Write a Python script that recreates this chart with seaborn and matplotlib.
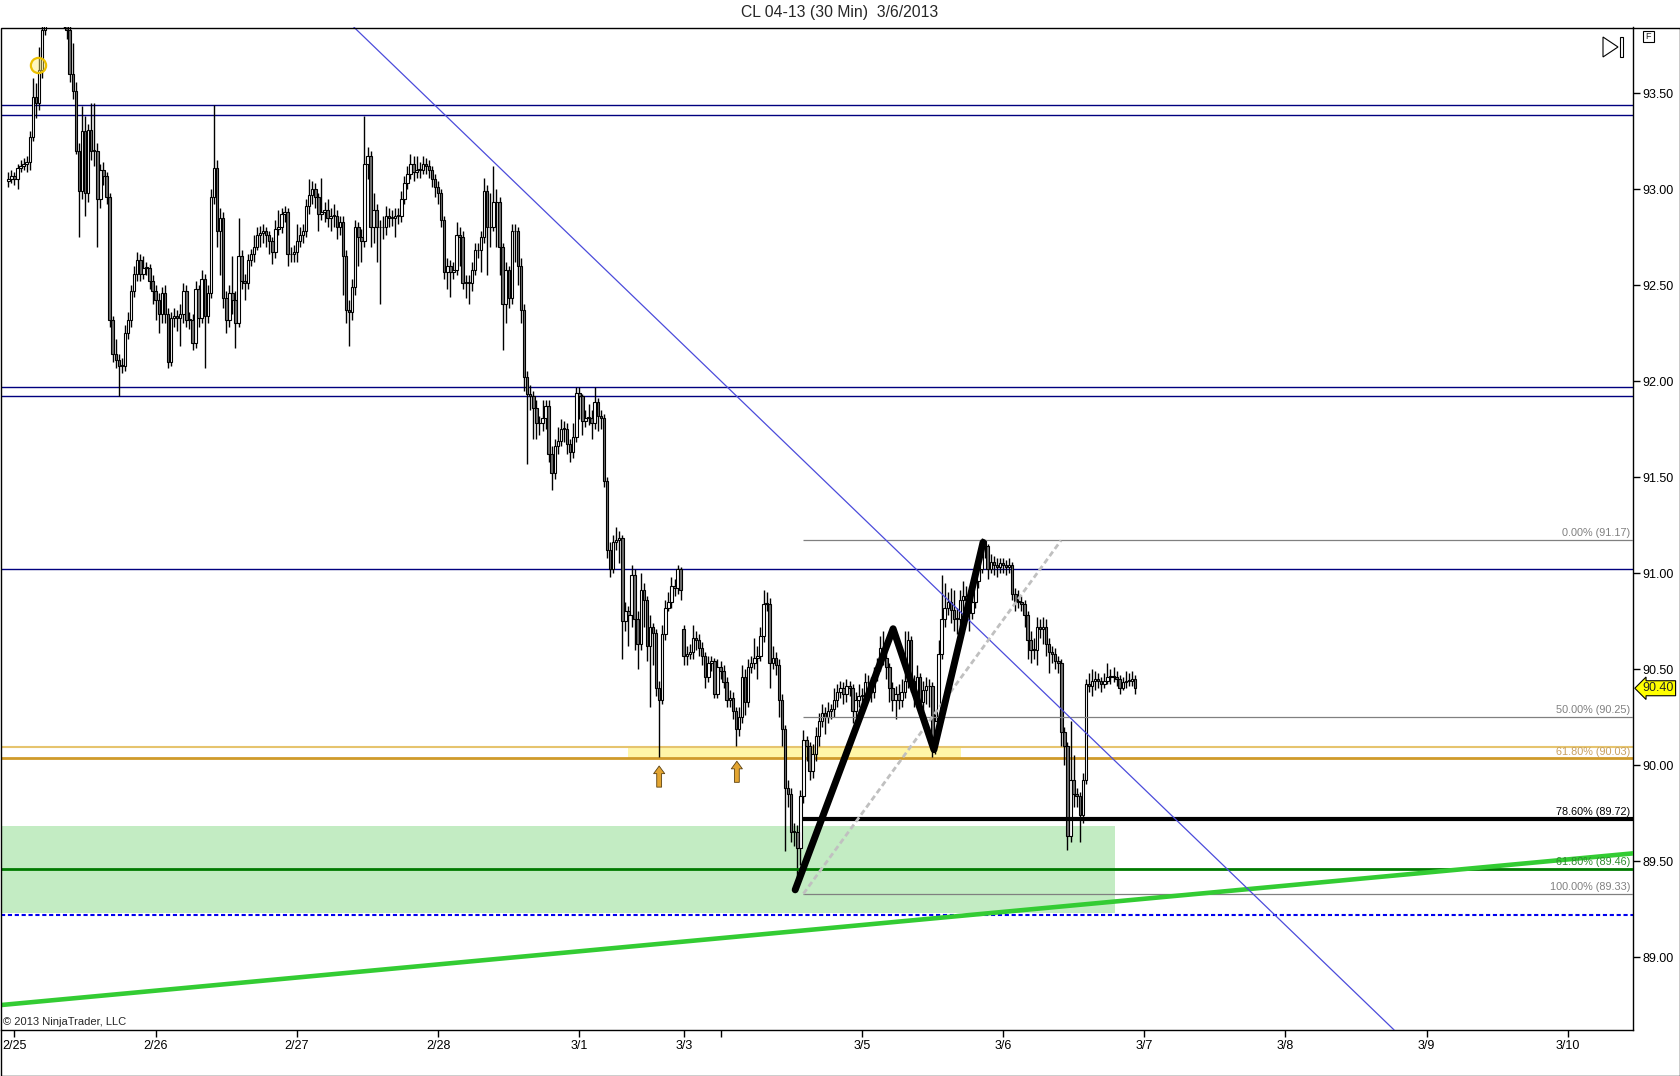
import numpy as np
import pandas as pd
import matplotlib
matplotlib.use("Agg")
import matplotlib.pyplot as plt
from matplotlib.patches import Rectangle, Polygon
import seaborn as sns

# CL 04-13, 30 min bars. One list per session.
# opens are the previous close unless a session starts with a gap
open_0225 = 93.04
close_0225 = [93.05, 93.07, 93.05, 93.11, 93.12, 93.13, 93.14, 93.27, 93.48, 93.45,
              93.62, 93.83, 93.95, 93.98, 93.93, 94.02, 93.96, 93.91, 93.88, 93.83,
              93.60, 93.51, 93.20, 92.99, 93.30, 92.98, 93.31, 93.20, 93.20, 92.95,
              93.10, 93.07, 92.96, 92.32, 92.14, 92.11, 92.08, 92.08, 92.25, 92.32,
              92.47, 92.56, 92.63, 92.56, 92.59, 92.59, 92.52, 92.47]
high_0225 = [93.09, 93.10, 93.09, 93.13, 93.15, 93.16, 93.17, 93.30, 93.58, 93.55,
             93.74, 93.92, 94.00, 94.05, 94.03, 94.08, 94.06, 93.99, 93.95, 93.92,
             93.86, 93.76, 93.56, 93.24, 93.43, 93.38, 93.34, 93.45, 93.45, 93.24,
             93.13, 93.14, 93.09, 92.98, 92.34, 92.22, 92.14, 92.12, 92.29, 92.36,
             92.50, 92.60, 92.67, 92.66, 92.65, 92.62, 92.61, 92.55]
low_0225 = [93.01, 93.03, 93.02, 93.00, 93.09, 93.10, 93.09, 93.10, 93.25, 93.37,
            93.41, 93.58, 93.80, 93.90, 93.88, 93.90, 93.92, 93.86, 93.84, 93.78,
            93.56, 93.47, 93.18, 92.75, 92.95, 92.86, 92.93, 93.15, 93.12, 92.70,
            92.90, 93.02, 92.92, 92.28, 92.10, 92.07, 91.92, 92.04, 92.05, 92.22,
            92.28, 92.44, 92.52, 92.52, 92.53, 92.55, 92.48, 92.40]

close_0226 = [92.42, 92.35, 92.46, 92.35, 92.10, 92.33, 92.34, 92.33, 92.35, 92.47,
              92.32, 92.32, 92.20, 92.48, 92.33, 92.53, 92.34, 92.46, 92.96, 93.11,
              92.78, 92.85, 92.43, 92.32, 92.46, 92.42, 92.30, 92.65, 92.52, 92.51,
              92.63, 92.66, 92.70, 92.76, 92.77, 92.78, 92.76, 92.73, 92.67, 92.79,
              92.80, 92.87, 92.88, 92.66, 92.66, 92.67]
high_0226 = [92.50, 92.46, 92.49, 92.50, 92.38, 92.36, 92.38, 92.37, 92.40, 92.51,
             92.50, 92.36, 92.35, 92.52, 92.50, 92.58, 92.56, 92.50, 93.00, 93.44,
             93.15, 92.90, 92.88, 92.47, 92.50, 92.65, 92.47, 92.85, 92.68, 92.56,
             92.66, 92.69, 92.76, 92.80, 92.81, 92.82, 92.80, 92.78, 92.75, 92.84,
             92.89, 92.90, 92.91, 92.90, 92.70, 92.71]
low_0226 = [92.32, 92.25, 92.30, 92.30, 92.07, 92.08, 92.28, 92.26, 92.18, 92.30,
            92.28, 92.27, 92.16, 92.17, 92.28, 92.30, 92.07, 92.30, 92.43, 92.92,
            92.70, 92.55, 92.38, 92.25, 92.28, 92.35, 92.17, 92.28, 92.48, 92.42,
            92.48, 92.60, 92.62, 92.68, 92.70, 92.72, 92.70, 92.66, 92.61, 92.64,
            92.76, 92.77, 92.83, 92.60, 92.62, 92.62]

close_0227 = [92.73, 92.76, 92.78, 92.91, 92.97, 93.00, 92.96, 92.87, 92.88, 92.89,
              92.85, 92.86, 92.86, 92.80, 92.83, 92.65, 92.37, 92.36, 92.49, 92.80,
              92.75, 92.73, 93.13, 93.17, 92.80, 92.89, 92.80, 92.80, 92.80, 92.86,
              92.85, 92.85, 92.86, 92.86, 92.95, 93.03, 93.08, 93.13, 93.09, 93.10,
              93.10, 93.13, 93.12, 93.10, 93.05, 93.01]
high_0227 = [92.82, 92.80, 92.82, 92.95, 93.05, 93.04, 93.03, 92.98, 93.06, 92.93,
             92.95, 92.90, 92.92, 92.89, 92.86, 92.86, 92.68, 92.42, 92.53, 92.84,
             92.83, 92.79, 93.38, 93.22, 93.20, 92.98, 92.92, 92.84, 92.86, 92.91,
             92.90, 92.89, 92.90, 92.90, 92.99, 93.07, 93.12, 93.18, 93.17, 93.17,
             93.14, 93.17, 93.16, 93.15, 93.12, 93.08]
low_0227 = [92.62, 92.70, 92.72, 92.75, 92.87, 92.92, 92.90, 92.78, 92.84, 92.83,
            92.80, 92.78, 92.80, 92.74, 92.76, 92.45, 92.30, 92.18, 92.32, 92.45,
            92.60, 92.62, 92.70, 93.05, 92.70, 92.72, 92.62, 92.40, 92.74, 92.76,
            92.80, 92.81, 92.75, 92.82, 92.83, 92.92, 93.00, 93.05, 93.04, 93.06,
            93.06, 93.08, 93.08, 93.06, 93.01, 92.96]

close_0228 = [92.98, 92.84, 92.57, 92.60, 92.57, 92.58, 92.76, 92.75, 92.51, 92.51,
              92.51, 92.58, 92.68, 92.68, 92.75, 92.99, 92.80, 92.80, 92.93, 92.93,
              92.70, 92.40, 92.58, 92.43, 92.78, 92.78, 92.60, 92.37, 92.02, 91.93,
              91.92, 91.86, 91.78, 91.78, 91.81, 91.87, 91.62, 91.52, 91.66, 91.69,
              91.75, 91.75, 91.67, 91.63, 91.71, 91.94]
high_0228 = [93.04, 93.00, 92.86, 92.64, 92.63, 92.62, 92.83, 92.80, 92.78, 92.55,
             92.55, 92.62, 92.72, 92.72, 92.78, 93.06, 93.02, 92.98, 93.12, 93.00,
             92.96, 92.72, 92.62, 92.60, 92.82, 92.82, 92.80, 92.64, 92.40, 92.05,
             91.98, 91.95, 91.90, 91.82, 91.90, 91.90, 91.90, 91.66, 91.70, 91.76,
             91.80, 91.79, 91.78, 91.70, 91.78, 91.97]
low_0228 = [92.92, 92.80, 92.53, 92.48, 92.44, 92.53, 92.55, 92.60, 92.48, 92.43,
            92.40, 92.47, 92.55, 92.64, 92.57, 92.72, 92.55, 92.70, 92.78, 92.70,
            92.55, 92.16, 92.30, 92.38, 92.40, 92.62, 92.50, 92.30, 91.95, 91.57,
            91.85, 91.70, 91.70, 91.72, 91.74, 91.75, 91.58, 91.43, 91.49, 91.62,
            91.66, 91.68, 91.62, 91.58, 91.60, 91.68]

close_0301 = [91.92, 91.79, 91.81, 91.81, 91.78, 91.89, 91.82, 91.81, 91.48, 91.12,
              91.02, 91.16, 91.17, 91.18, 90.75, 90.80, 90.78, 90.99, 90.76, 90.63,
              90.91, 90.86, 90.62, 90.72, 90.69, 90.40, 90.34, 90.68, 90.82, 90.85,
              90.93, 90.92, 91.02, 90.91]
high_0301 = [91.97, 91.93, 91.85, 91.88, 91.85, 91.97, 91.91, 91.85, 91.83, 91.50,
             91.16, 91.20, 91.24, 91.22, 91.20, 90.85, 90.83, 91.04, 91.02, 90.80,
             91.00, 90.95, 90.88, 90.78, 90.74, 90.71, 90.44, 90.73, 90.86, 90.90,
             90.98, 90.97, 91.04, 91.03]
low_0301 = [91.80, 91.72, 91.76, 91.77, 91.70, 91.75, 91.74, 91.75, 91.45, 91.08,
            90.98, 91.00, 91.12, 91.05, 90.55, 90.70, 90.62, 90.72, 90.60, 90.50,
            90.60, 90.72, 90.54, 90.30, 90.52, 90.36, 90.04, 90.32, 90.65, 90.80,
            90.82, 90.88, 90.89, 90.86]

open_0303 = 90.71
close_0303 = [90.57, 90.58, 90.59, 90.66, 90.65, 90.61, 90.57, 90.46, 90.53, 90.54,
              90.37, 90.51]
high_0303 = [90.73, 90.62, 90.63, 90.73, 90.70, 90.68, 90.64, 90.59, 90.57, 90.57,
             90.56, 90.55]
low_0303 = [90.52, 90.52, 90.55, 90.55, 90.60, 90.57, 90.52, 90.40, 90.43, 90.49,
            90.35, 90.35]

close_0304 = [90.49, 90.43, 90.34, 90.35, 90.28, 90.19, 90.25, 90.46, 90.33, 90.51,
              90.53, 90.56, 90.57, 90.67, 90.84, 90.84, 90.53, 90.56, 90.52, 90.34,
              90.19, 89.88, 89.85, 89.65, 89.65, 89.57, 89.84, 90.13, 90.10, 89.97,
              90.06, 90.15, 90.23, 90.27, 90.25, 90.28, 90.29, 90.34, 90.38, 90.40,
              90.37, 90.41, 90.40, 90.28, 90.34, 90.36]
high_0304 = [90.54, 90.52, 90.46, 90.39, 90.38, 90.30, 90.30, 90.52, 90.50, 90.55,
             90.57, 90.66, 90.62, 90.72, 90.91, 90.90, 90.87, 90.62, 90.59, 90.55,
             90.37, 90.21, 89.92, 89.88, 89.70, 89.69, 89.87, 90.18, 90.15, 90.12,
             90.11, 90.20, 90.27, 90.32, 90.30, 90.33, 90.32, 90.40, 90.42, 90.44,
             90.43, 90.45, 90.44, 90.42, 90.38, 90.42]
low_0304 = [90.45, 90.40, 90.30, 90.30, 90.24, 90.10, 90.15, 90.22, 90.26, 90.30,
            90.48, 90.50, 90.45, 90.54, 90.64, 90.80, 90.40, 90.50, 90.47, 90.25,
            90.10, 89.55, 89.78, 89.60, 89.58, 89.38, 89.48, 89.80, 90.02, 89.92,
            89.93, 90.02, 90.10, 90.20, 90.16, 90.22, 90.24, 90.25, 90.30, 90.35,
            90.32, 90.33, 90.36, 90.22, 90.25, 90.30]

close_0305 = [90.36, 90.43, 90.43, 90.38, 90.47, 90.52, 90.61, 90.56, 90.51, 90.40,
              90.34, 90.37, 90.34, 90.38, 90.44, 90.65, 90.44, 90.37, 90.46, 90.33,
              90.39, 90.41, 90.41, 90.10, 90.23, 90.58, 90.76, 90.82, 90.85, 90.81,
              90.76, 90.76, 90.86, 90.88, 90.86, 90.79, 90.85, 90.96, 91.02, 91.17,
              91.14, 91.02, 91.06, 91.04, 91.03, 91.05]
high_0305 = [90.40, 90.48, 90.47, 90.46, 90.51, 90.56, 90.67, 90.70, 90.60, 90.53,
             90.43, 90.41, 90.42, 90.45, 90.70, 90.70, 90.67, 90.47, 90.52, 90.48,
             90.44, 90.46, 90.45, 90.43, 90.28, 90.65, 90.99, 90.95, 90.90, 90.92,
             90.91, 90.82, 90.91, 90.96, 90.93, 90.90, 90.90, 91.00, 91.06, 91.18,
             91.17, 91.15, 91.10, 91.09, 91.08, 91.08]
low_0305 = [90.30, 90.32, 90.38, 90.33, 90.35, 90.44, 90.49, 90.52, 90.45, 90.33,
            90.28, 90.24, 90.29, 90.30, 90.35, 90.40, 90.38, 90.30, 90.34, 90.28,
            90.28, 90.32, 90.30, 90.04, 90.06, 90.20, 90.55, 90.72, 90.78, 90.74,
            90.70, 90.68, 90.72, 90.80, 90.82, 90.70, 90.76, 90.82, 90.92, 91.00,
            91.08, 90.97, 91.00, 90.99, 90.98, 91.00]

close_0306 = [91.04, 91.03, 91.04, 90.89, 90.85, 90.85, 90.84, 90.78, 90.65, 90.60,
              90.60, 90.72, 90.71, 90.72, 90.63, 90.59, 90.58, 90.54, 90.53, 90.17,
              90.10, 89.63, 89.92, 89.85, 89.84, 89.74, 89.92, 90.42, 90.41, 90.44,
              90.45, 90.44, 90.42, 90.44, 90.46, 90.46, 90.46, 90.45, 90.40, 90.43,
              90.44, 90.44, 90.45, 90.40]
high_0306 = [91.08, 91.07, 91.08, 91.06, 90.92, 90.91, 90.88, 90.86, 90.80, 90.70,
             90.66, 90.77, 90.76, 90.77, 90.76, 90.66, 90.62, 90.61, 90.57, 90.55,
             90.20, 90.12, 90.23, 90.05, 89.88, 89.86, 89.96, 90.45, 90.48, 90.50,
             90.49, 90.48, 90.46, 90.48, 90.53, 90.50, 90.51, 90.49, 90.47, 90.46,
             90.49, 90.48, 90.49, 90.47]
low_0306 = [91.00, 90.99, 91.00, 90.86, 90.80, 90.82, 90.80, 90.72, 90.55, 90.53,
            90.55, 90.52, 90.66, 90.63, 90.57, 90.48, 90.53, 90.50, 90.48, 90.10,
            90.00, 89.56, 89.60, 89.78, 89.78, 89.60, 89.70, 89.90, 90.38, 90.36,
            90.39, 90.40, 90.38, 90.40, 90.42, 90.42, 90.43, 90.41, 90.37, 90.39,
            90.40, 90.41, 90.41, 90.37]

# drawing objects on the chart, anchored at (bar number, price)
navy_levels = [93.436, 93.384, 91.97, 91.92, 91.02]
gold_light, gold_dark = 90.095, 90.035
blue_dash_level = 89.22
green_fib_level = 89.46
zone_bars, zone_prices = (-2.4, 360.5), (89.23, 89.68)
band_bars, band_prices = (201.9, 310.3), (gold_dark, gold_light)
fib_start = 259
fib_pcts = ["0.00%", "50.00%", "61.80%", "78.60%", "100.00%"]
fib_prices = [91.17, 90.25, 90.03, 89.72, 89.33]
zigzag_bars = [256.3, 288.2, 301.5, 317.5]
zigzag_prices = [89.35, 90.71, 90.08, 91.16]
dash_bars, dash_prices = [259, 342.9], [89.33, 91.17]
green_trend = [(-2.38, 88.75), (529.2, 89.54)]
blue_trend = [(114.2, 93.818), (450.1, 88.64)]
arrow_bars, arrow_tips = [212, 237.3], [89.995, 90.02]
marker_bar, marker_price = 9.7, 93.646
last_price = 90.40
price_ticks = [89.0, 89.5, 90.0, 90.5, 91.0, 91.5, 92.0, 92.5, 93.0, 93.5]
x_range = (-2.38, 529.2)

sessions = [
    (open_0225, close_0225, high_0225, low_0225),
    (None, close_0226, high_0226, low_0226),
    (None, close_0227, high_0227, low_0227),
    (None, close_0228, high_0228, low_0228),
    (None, close_0301, high_0301, low_0301),
    (open_0303, close_0303, high_0303, low_0303),
    (None, close_0304, high_0304, low_0304),
    (None, close_0305, high_0305, low_0305),
    (None, close_0306, high_0306, low_0306),
]
o, c, h, l = [], [], [], []
for first_open, cl, hi, lo in sessions:
    prev = [first_open if first_open is not None else c[-1]] + cl[:-1]
    o += prev
    c += cl
    h += hi
    l += lo
bars = pd.DataFrame({"open": o, "high": h, "low": l, "close": c})
bars["high"] = bars[["open", "high", "close"]].max(axis=1)
bars["low"] = bars[["open", "low", "close"]].min(axis=1)
bars["x"] = np.arange(len(bars))

# bar clock: 23h sessions, weekend gap only for real data
times = pd.date_range("2013-02-24 23:00", "2013-03-11 00:00", freq="30min")
keep = (times.hour != 17) & ~((times >= "2013-03-01 17:00") & (times < "2013-03-03 18:00"))
times = times[keep]
new_day = ~pd.Series(times.date).duplicated().values
tick_pos = np.flatnonzero(new_day)[1:]
tick_pos = tick_pos[tick_pos < x_range[1]]
tick_lab = [f"{t.month}/{t.day}" if not (t.month == 3 and t.day == 4) else ""
            for t in times[tick_pos]]

sns.set_style("white")
plt.rcParams["font.family"] = ["Liberation Sans", "DejaVu Sans"]

W, H = 1680, 1076
fig = plt.figure(figsize=(W / 100, H / 100), dpi=100)
ax = fig.add_axes([1 / W, 46 / H, 1632 / W, 1003 / H])

# background drawings
ax.add_patch(Rectangle((zone_bars[0], zone_prices[0]), zone_bars[1] - zone_bars[0],
                       zone_prices[1] - zone_prices[0], fc="#c3ecc3", ec="none", zorder=1))
ax.add_patch(Rectangle((band_bars[0], band_prices[0]), band_bars[1] - band_bars[0],
                       band_prices[1] - band_prices[0], fc="#fff6a8", ec="none", zorder=1))
for lvl in navy_levels:
    ax.axhline(lvl, color="#00007f", lw=1, zorder=2)
ax.axhline(gold_light, color="#e6c46e", lw=1.5, zorder=2)
ax.axhline(gold_dark, color="#cf9a2a", lw=2, zorder=2)
ax.axhline(blue_dash_level, color="#0000ee", lw=1.5, dashes=(2, 1.3), zorder=2)

# candles
up = bars["close"] >= bars["open"]
body_lo = bars[["open", "close"]].min(axis=1)
body_h = (bars["close"] - bars["open"]).abs().clip(lower=0.004)
ax.vlines(bars["x"], bars["low"], bars["high"], color="black", lw=1.0, zorder=3)
ax.bar(bars["x"][up], body_h[up], bottom=body_lo[up], width=0.8, color="white",
       edgecolor="black", linewidth=0.8, zorder=3.1)
ax.bar(bars["x"][~up], body_h[~up], bottom=body_lo[~up], width=0.8, color="#6e6e6e",
       edgecolor="black", linewidth=0.8, zorder=3.1)

# fibonacci lines
for pct, lvl in zip(fib_pcts, fib_prices):
    if pct == "78.60%":
        ax.hlines(lvl, fib_start, 600, color="black", lw=3, zorder=4)
    elif pct != "61.80%":
        ax.hlines(lvl, fib_start, 600, color="#808080", lw=0.9, zorder=4)
ax.axhline(green_fib_level, color="#007a00", lw=2, zorder=4)

fib_colors = {"0.00%": "#808080", "50.00%": "#808080", "61.80%": "#c8a060",
              "78.60%": "black", "100.00%": "#808080"}
labels = [(f"{p} ({v:.2f})", v, fib_colors[p]) for p, v in zip(fib_pcts, fib_prices)]
labels.append((f"61.80% ({green_fib_level:.2f})", green_fib_level, "#2e8b2e"))
for txt, lvl, col in labels:
    ax.annotate(txt, xy=(1.0, lvl), xycoords=("axes fraction", "data"),
                xytext=(-2, 1.5), textcoords="offset points", ha="right", va="bottom",
                fontsize=7.8, color=col, zorder=7)

# trend lines
ax.axline(green_trend[0], green_trend[1], color="#33cc33", lw=3.3, zorder=4.5)
ax.axline(blue_trend[0], blue_trend[1], color="#4b4bdb", lw=0.9, zorder=4.5)
sns.lineplot(x=dash_bars, y=dash_prices, ax=ax, color="#c0c0c0", lw=2,
             sort=False, estimator=None, zorder=4.6)
ax.lines[-1].set_dashes((2, 1.2))
sns.lineplot(x=zigzag_bars, y=zigzag_prices, ax=ax, color="black", lw=5,
             sort=False, estimator=None, zorder=5)

for xb, tip in zip(arrow_bars, arrow_tips):
    ax.annotate("", xy=(xb, tip), xytext=(xb, tip - 0.11),
                arrowprops=dict(arrowstyle="simple,head_length=0.55,head_width=0.8,tail_width=0.35",
                                fc="#e3a531", ec="#5a4010", lw=0.6, shrinkA=0, shrinkB=0),
                zorder=6)
ax.scatter([marker_bar], [marker_price], s=120, facecolor=(1.0, 0.93, 0.45, 0.45),
           edgecolor="#ecc000", lw=1.6, zorder=6)

# axes
ax.yaxis.tick_right()
ax.set_yticks(price_ticks)
ax.set_yticklabels([f"{v:.2f}" for v in price_ticks])
ax.set_xticks(tick_pos)
ax.set_xticklabels(tick_lab)
ax.set_xlim(*x_range)
ax.set_ylim(88.62, 93.844)
ax.tick_params(axis="both", direction="out", length=5, width=1, colors="black",
               labelsize=9, pad=2)
ax.tick_params(axis="y", right=True, left=False)
ax.tick_params(axis="x", bottom=True)
for side in ["left", "top"]:
    ax.spines[side].set_visible(False)
for side in ["right", "bottom"]:
    ax.spines[side].set_color("black")
    ax.spines[side].set_linewidth(1)
ax.set_xlabel("")
ax.set_ylabel("")
ax.grid(False)

ax.annotate(f"{last_price:.2f}", xy=(1.0, last_price), xycoords=("axes fraction", "data"),
            xytext=(7, 0), textcoords="offset points", ha="left", va="center", fontsize=9,
            bbox=dict(boxstyle="larrow,pad=0.12", fc="#ffff00", ec="black", lw=0.8),
            annotation_clip=False, zorder=8)

ax.text(0.001, 0.003, "\u00a9 2013 NinjaTrader, LLC", transform=ax.transAxes,
        fontsize=8, ha="left", va="bottom", zorder=8)

# panel frame, title and toolbar glyphs
def px(x, y):
    return (x / W, 1 - y / H)

fig.add_artist(Rectangle(px(0.5, 1075.5), (W - 1) / W, (1075 - 27) / H, fill=False,
                         ec="black", lw=1, transform=fig.transFigure))
fig.text(0.5, 1 - 13 / H, "CL 04-13 (30 Min)  3/6/2013", ha="center", va="center",
         fontsize=11.3)
fig.add_artist(Polygon([px(1603, 37), px(1618, 47), px(1603, 57)], closed=True,
                       fill=False, ec="black", lw=0.8, transform=fig.transFigure))
fig.add_artist(Rectangle(px(1620, 57), 3 / W, 20 / H, fill=False, ec="black", lw=0.8,
                         transform=fig.transFigure))
fig.add_artist(Rectangle(px(1643, 42), 11 / W, 11 / H, fill=False, ec="black", lw=0.8,
                         transform=fig.transFigure))
fig.text(*px(1648.5, 36.5), "F", ha="center", va="center", fontsize=6.5)

fig.savefig("out.png", dpi=100)
